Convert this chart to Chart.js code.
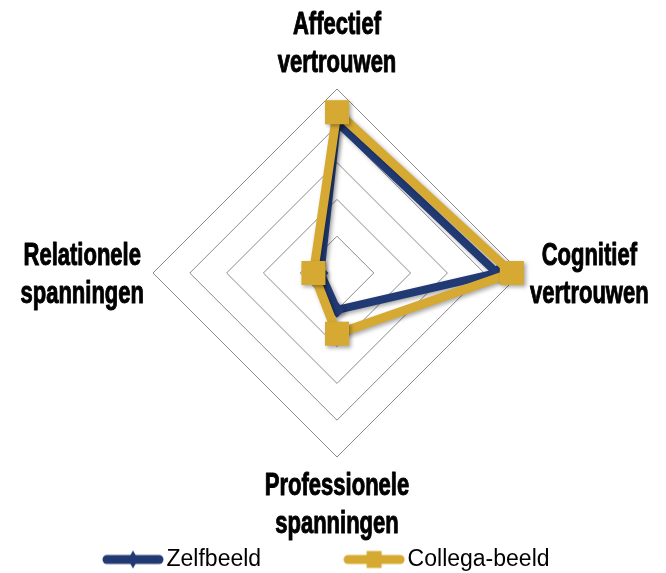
<!DOCTYPE html>
<html>
<head>
<meta charset="utf-8">
<title>Vertrouwen en spanningen</title>
<script src="https://cdn.jsdelivr.net/npm/chart.js@4.4.0/dist/chart.umd.min.js"></script>
<style>
  html, body { margin: 0; padding: 0; background: #fff; }
  #wrap { width: 666px; height: 573px; }
</style>
</head>
<body>
<div id="wrap"><canvas id="trustChart"></canvas></div>
<script>
// axes, clockwise from the top
const axisLabels = [
    ['Affectief', 'vertrouwen'],
    ['Cognitief', 'vertrouwen'],
    ['Professionele', 'spanningen'],
    ['Relationele', 'spanningen']
];
const seriesNames = ['Zelfbeeld', 'Collega-beeld'];
const zelfbeeld = [4.1, 4.35, 1.0, 0.45];
const collegaBeeld = [4.37, 4.75, 1.65, 0.64];
const scaleMin = 0;
const scaleMax = 5;

const BLUE = '#213a73';
const GOLD = '#d6a932';

// small line + marker picture used as legend symbol
function legendIcon(color, marker) {
    const c = document.createElement('canvas');
    c.width = 62;
    c.height = 20;
    const g = c.getContext('2d');
    g.strokeStyle = color;
    g.fillStyle = color;
    g.lineWidth = 9;
    g.lineCap = 'round';
    g.beginPath();
    g.moveTo(5, 10);
    g.lineTo(57, 10);
    g.stroke();
    if (marker === 'diamond') {
        g.beginPath();
        g.moveTo(31, 1);
        g.lineTo(36, 10);
        g.lineTo(31, 19);
        g.lineTo(26, 10);
        g.closePath();
        g.fill();
    } else {
        g.fillRect(23.5, 1.5, 15, 17);
    }
    return c;
}
const legendIcons = [legendIcon(BLUE, 'diamond'), legendIcon(GOLD, 'square')];

// soft shadow under the lines and markers
const lineShadow = {
    id: 'lineShadow',
    beforeDatasetsDraw(chart) {
        const ctx = chart.ctx;
        ctx.save();
        ctx.shadowColor = 'rgba(0, 0, 0, 0.35)';
        ctx.shadowBlur = 4;
        ctx.shadowOffsetX = 2;
        ctx.shadowOffsetY = 2;
    },
    afterDatasetsDraw(chart) {
        chart.ctx.restore();
    }
};

// axis names, two centred lines next to each corner (condensed bold)
const axisTitles = {
    id: 'axisTitles',
    afterDraw(chart) {
        const scale = chart.scales.r;
        const ctx = chart.ctx;
        const lineH = 38, cap = 22, squeeze = 0.71, sideGap = 9;
        ctx.save();
        ctx.font = 'bold 31px "Liberation Sans", Arial, sans-serif';
        ctx.fillStyle = '#000';
        ctx.strokeStyle = '#000';
        ctx.lineWidth = 1;
        ctx.lineJoin = 'round';
        ctx.textAlign = 'center';
        ctx.textBaseline = 'alphabetic';
        axisLabels.forEach((lines, i) => {
            const edge = scale.getPointPosition(i, scale.drawingArea);
            const dx = edge.x - scale.xCenter;
            const dy = edge.y - scale.yCenter;
            const w = Math.max(...lines.map(t => ctx.measureText(t).width)) * squeeze;
            let cx = edge.x, first;
            if (Math.abs(dx) < 1) {
                first = dy < 0 ? edge.y - 17 - lineH * (lines.length - 1) : edge.y + 16 + cap;
            } else {
                cx = edge.x + Math.sign(dx) * (sideGap + w / 2);
                first = edge.y - (lineH * (lines.length - 1) - cap) / 2;
            }
            lines.forEach((t, k) => {
                ctx.save();
                ctx.translate(cx, first + k * lineH);
                ctx.scale(squeeze, 1);
                ctx.fillText(t, 0, 0);
                ctx.strokeText(t, 0, 0);
                ctx.restore();
            });
        });
        ctx.restore();
    }
};

const ctx = document.getElementById('trustChart').getContext('2d');
new Chart(ctx, {
    type: 'radar',
    data: {
        labels: axisLabels,
        datasets: [{
            label: seriesNames[0],
            data: zelfbeeld,
            borderColor: BLUE,
            backgroundColor: 'transparent',
            borderWidth: 8,
            borderJoinStyle: 'miter',
            fill: false,
            pointStyle: 'rectRot',
            pointRadius: 8,
            pointBackgroundColor: BLUE,
            pointBorderWidth: 0,
            order: 2
        }, {
            label: seriesNames[1],
            data: collegaBeeld,
            borderColor: GOLD,
            backgroundColor: 'transparent',
            borderWidth: 9,
            borderJoinStyle: 'miter',
            fill: false,
            pointStyle: 'rect',
            pointRadius: 17,
            pointBackgroundColor: GOLD,
            pointBorderWidth: 0,
            order: 1
        }]
    },
    options: {
        responsive: true,
        maintainAspectRatio: false,
        animation: false,
        layout: {
            padding: { top: 89, left: 20, right: 12, bottom: -8 }
        },
        scales: {
            r: {
                min: scaleMin,
                max: scaleMax,
                ticks: { display: false, stepSize: 1 },
                grid: { color: '#8a8a8a', lineWidth: 1 },
                angleLines: { display: false },
                pointLabels: { display: false }
            }
        },
        plugins: {
            tooltip: { enabled: false },
            legend: {
                position: 'bottom',
                align: 'start',
                labels: {
                    usePointStyle: true,
                    pointStyleWidth: 44,
                    padding: 91,
                    color: '#000',
                    font: { family: 'Liberation Sans', size: 23 },
                    generateLabels: chart => chart.data.datasets.map((ds, i) => ({
                        text: ds.label,
                        pointStyle: legendIcons[i],
                        datasetIndex: i,
                        hidden: false,
                        lineWidth: 0,
                        fillStyle: ds.borderColor,
                        strokeStyle: ds.borderColor
                    }))
                }
            }
        }
    },
    plugins: [lineShadow, axisTitles]
});
</script>
</body>
</html>
